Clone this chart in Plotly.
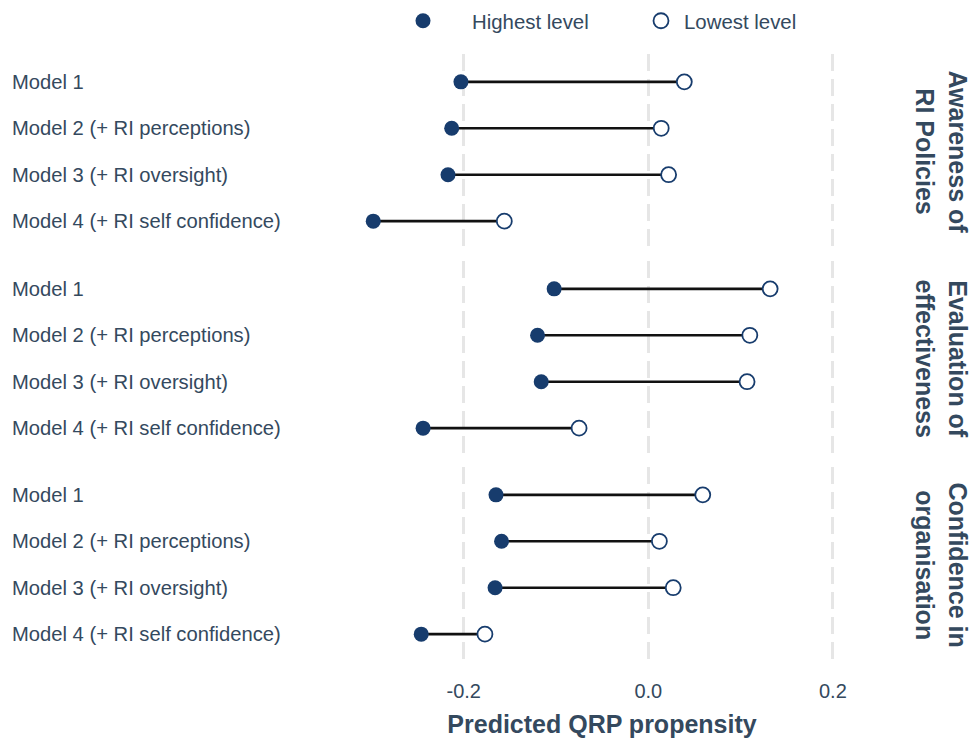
import plotly.graph_objects as go

# ---------------- data ----------------
models = ["Model 1", "Model 2 (+ RI perceptions)", "Model 3 (+ RI oversight)",
          "Model 4 (+ RI self confidence)"]
panel_titles = ["Awareness of<br>RI Policies", "Evaluation of<br>effectiveness",
                "Confidence in<br>organisation"]
highest_awareness = [-0.203, -0.213, -0.217, -0.298]
lowest_awareness = [0.039, 0.014, 0.022, -0.156]
highest_evaluation = [-0.102, -0.120, -0.116, -0.244]
lowest_evaluation = [0.132, 0.110, 0.107, -0.075]
highest_confidence = [-0.165, -0.159, -0.166, -0.246]
lowest_confidence = [0.059, 0.012, 0.027, -0.177]
x_ticks = [-0.2, 0.0, 0.2]
x_ticklabels = ["-0.2", "0.0", "0.2"]

highs = [highest_awareness, highest_evaluation, highest_confidence]
lows = [lowest_awareness, lowest_evaluation, lowest_confidence]

# ---------------- style ----------------
FONT = "Liberation Sans, Arial, sans-serif"
TXT = "#34495e"
NAVY = "#173c6d"
GRID = "#e6e6e6"

W, H = 971, 740
L, R, T, B = 309, 76, 54, 78
plot_w = W - L - R
plot_h = H - T - B
zero_px, px_per_unit = 648.3, 923.0
x_range = [(L - zero_px) / px_per_unit, (W - R - zero_px) / px_per_unit]

# panel pixel extents (top, bottom) measured from top of figure
panels_px = [(54, 249), (261, 456), (467, 662)]
domains = [[(T + plot_h - b) / plot_h, (T + plot_h - t) / plot_h] for t, b in panels_px]

fig = go.Figure()

for p in range(3):
    ax = "" if p == 0 else str(p + 1)
    xref, yref = "x" + ax, "y" + ax
    # connecting segments
    for i, m in enumerate(models):
        fig.add_trace(go.Scatter(
            x=[highs[p][i], lows[p][i]], y=[m, m], mode="lines",
            line=dict(color="#111111", width=2.6), showlegend=False,
            hoverinfo="skip", xaxis=xref, yaxis=yref))
    fig.add_trace(go.Scatter(
        x=highs[p], y=models, mode="markers", name="Highest level",
        marker=dict(color=NAVY, size=15, line=dict(width=0)),
        showlegend=(p == 0), legend="legend", xaxis=xref, yaxis=yref))
    fig.add_trace(go.Scatter(
        x=lows[p], y=models, mode="markers", name="Lowest level",
        marker=dict(color="white", size=15, line=dict(color=NAVY, width=1.8)),
        showlegend=(p == 0), legend="legend2", xaxis=xref, yaxis=yref))

leg_y = 1 + (T - 21) / plot_h
layout = dict(
    width=W, height=H, margin=dict(l=L, r=R, t=T, b=B, autoexpand=False),
    paper_bgcolor="white", plot_bgcolor="white",
    font=dict(family=FONT, size=20, color=TXT),
    showlegend=True,
    legend=dict(orientation="h", x=(374 - L) / plot_w, xanchor="left",
                y=leg_y, yanchor="middle",
                font=dict(size=20.4, color=TXT), itemwidth=88,
                bgcolor="rgba(0,0,0,0)"),
    legend2=dict(orientation="h", x=(638 - L) / plot_w, xanchor="left",
                 y=leg_y, yanchor="middle",
                 font=dict(size=20.4, color=TXT), itemwidth=36,
                 bgcolor="rgba(0,0,0,0)"),
)

annotations = []
for p in range(3):
    ax = "" if p == 0 else str(p + 1)
    xa = dict(range=x_range, tickvals=x_ticks, ticktext=x_ticklabels,
              showgrid=True, gridcolor=GRID, gridwidth=2.5, griddash="17px,8px",
              zeroline=False, showline=False, fixedrange=True,
              showticklabels=(p == 2),
              ticks="outside" if p == 2 else "", ticklen=11,
              tickcolor="rgba(0,0,0,0)",
              tickfont=dict(size=20, color=TXT))
    if p == 2:
        xa["title"] = dict(text="<b>Predicted QRP propensity</b>",
                           font=dict(size=25, color=TXT), standoff=14)
    if p > 0:
        xa["matches"] = "x"
    xa["anchor"] = "y" + ax
    layout["xaxis" + ax] = xa
    layout["yaxis" + ax] = dict(
        domain=domains[p], type="category", categoryarray=models,
        categoryorder="array", range=[3.6, -0.6], showgrid=False,
        zeroline=False, showline=False, showticklabels=False,
        anchor="x" + ax, fixedrange=True)
    for i, m in enumerate(models):
        annotations.append(dict(
            text=m, xref="paper", x=(11 - L) / plot_w, xanchor="left",
            yref="y" + ax, y=i, yanchor="middle", showarrow=False,
            borderpad=0, font=dict(size=20.2, color=TXT)))
    annotations.append(dict(
        text="<b>" + panel_titles[p] + "</b>", xref="paper",
        x=(941 - L) / plot_w, xanchor="center",
        yref="y" + ax + " domain", y=0.5, yanchor="middle",
        textangle=90, showarrow=False, borderpad=0,
        font=dict(size=25, color=TXT)))

layout["annotations"] = annotations
fig.update_layout(**layout)
fig.write_html("out.html")
